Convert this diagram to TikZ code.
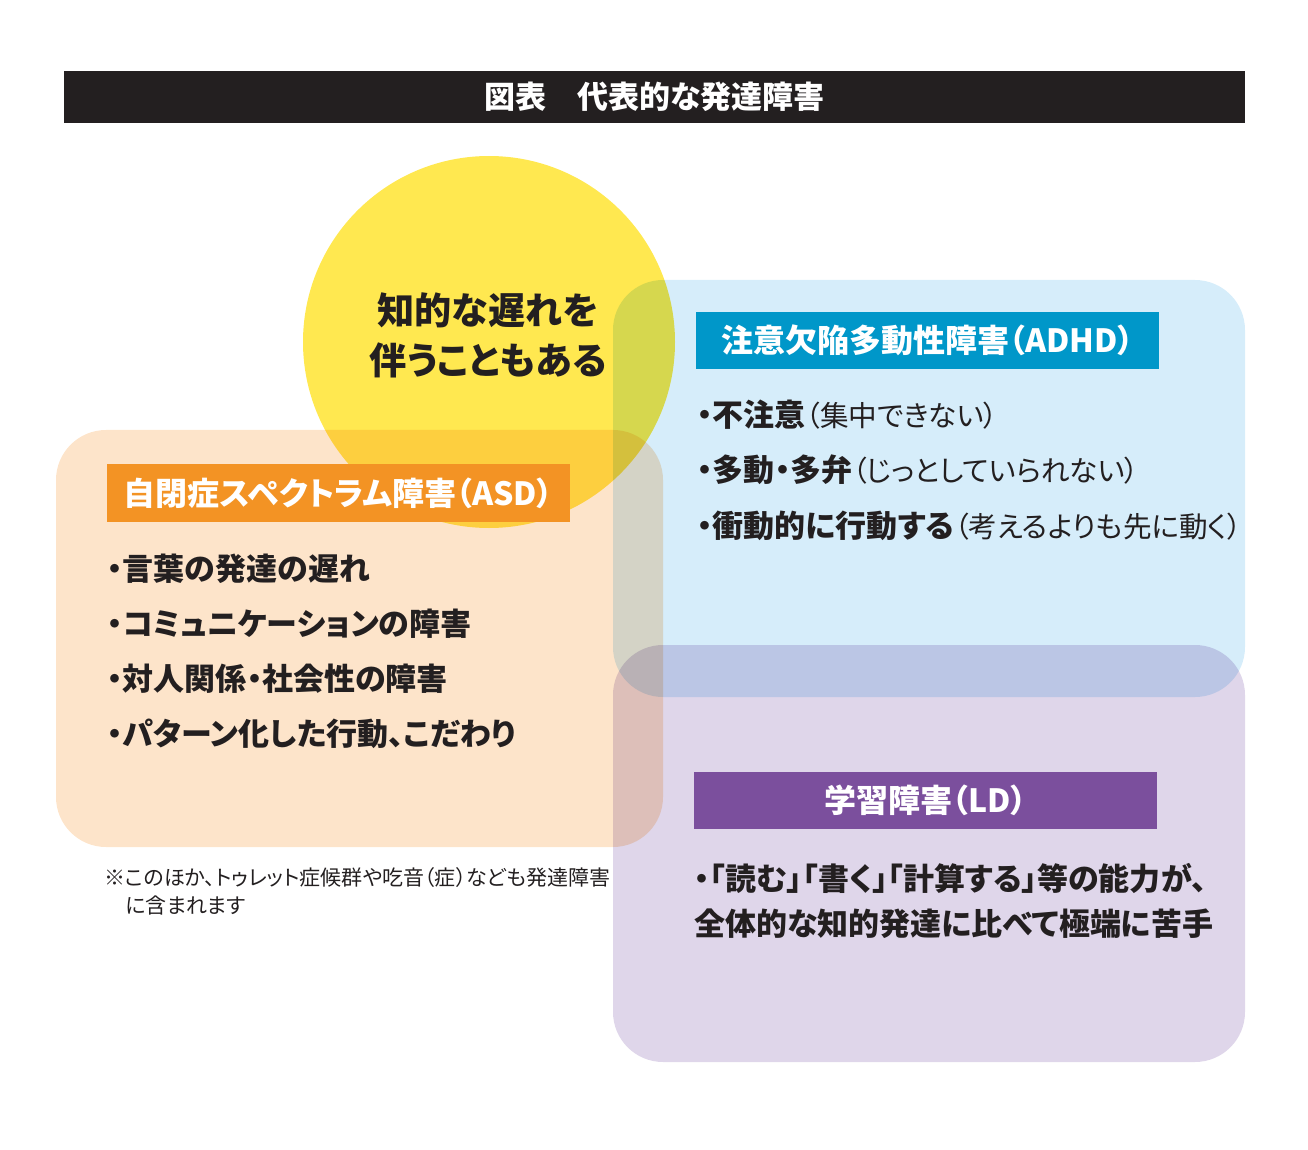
\documentclass[tikz,border=0pt]{standalone}
\usepackage{fontspec}
\setmainfont{Noto Sans CJK JP}[RawFeature=+palt]
\usetikzlibrary{positioning}
\definecolor{ink}{HTML}{231F20}
\definecolor{sun}{HTML}{FFE850}
\definecolor{adhdfill}{HTML}{D6EDFA}
\definecolor{asdfill}{HTML}{FDE4CA}
\definecolor{ldfill}{HTML}{DFD6EA}
\definecolor{adhdtag}{HTML}{0097C9}
\definecolor{asdtag}{HTML}{F39324}
\definecolor{ldtag}{HTML}{7B4F9D}
\newcommand{\aside}[1]{{\fontsize{14.3}{18}\selectfont #1}}
\tikzset{
  region/.style={rounded corners=25pt},
  tag/.style={minimum width=231.5pt,minimum height=28.5pt,inner sep=0pt,text=white,
    font=\bfseries\fontsize{16}{18}\selectfont},
  item/.style={anchor=west,inner sep=0pt,text=ink,font=\fontsize{15.5}{18}\selectfont},
}
\begin{document}
\begin{tikzpicture}[x=0.5pt,y=-0.5pt]
\useasboundingbox (0,0) rectangle (1308,1150);
% title bar
\node[fill=ink,minimum width=590.5pt,minimum height=26pt,inner sep=0pt,text=white,
  font=\bfseries\fontsize{15.5}{18}\selectfont] (title) at (654.5,97) {図表　代表的な発達障害};
% overlapping areas
\begin{scope}[blend mode=multiply]
  \fill[sun] (489,342) circle[radius=186];
  \fill[adhdfill,region] (613,280) rectangle (1245,697);
  \fill[asdfill,region] (56,430) rectangle (663,847);
  \fill[ldfill,region] (613,645) rectangle (1245,1062);
\end{scope}
\node[align=center,inner sep=0pt,text=ink,font=\bfseries\fontsize{18.6}{25}\selectfont]
  (delay) at (488,335) {知的な遅れを\\伴うこともある};
% ADHD
\node[tag,fill=adhdtag] (adhd) at (927.5,340.5) {注意欠陥多動性障害（ADHD）};
\node[item] (adhd1) at (697,415) {\textbf{・不注意}\aside{（集中できない）}};
\node[item] (adhd2) at (697,470) {\textbf{・多動・多弁}\aside{（じっとしていられない）}};
\node[item] (adhd3) at (697,526) {\textbf{・衝動的に行動する}\aside{（考えるよりも先に動く）}};
% ASD
\node[tag,fill=asdtag] (asd) at (338.5,493) {自閉症スペクトラム障害（ASD）};
\node[item,font=\bfseries\fontsize{15.5}{18}\selectfont] (asd1) at (107,569) {・言葉の発達の遅れ};
\node[item,font=\bfseries\fontsize{15.5}{18}\selectfont] (asd2) at (107,624) {・コミュニケーションの障害};
\node[item,font=\bfseries\fontsize{15.5}{18}\selectfont] (asd3) at (107,679) {・対人関係・社会性の障害};
\node[item,font=\bfseries\fontsize{15.5}{18}\selectfont] (asd4) at (107,734) {・パターン化した行動、こだわり};
% LD
\node[tag,fill=ldtag] (ld) at (925.5,800.5) {学習障害（LD）};
\node[item,align=left,font=\bfseries\fontsize{15.5}{22.5}\selectfont] (ld1) at (694,900.5)
  {・「読む」「書く」「計算する」等の能力が、\\全体的な知的発達に比べて極端に苦手};
% note
\node[item,align=left,font=\fontsize{10.5}{14}\selectfont] (note) at (104,891)
  {※このほか、トゥレット症候群や吃音（症）なども発達障害\\\hspace*{1em}に含まれます};
\end{tikzpicture}
\end{document}
